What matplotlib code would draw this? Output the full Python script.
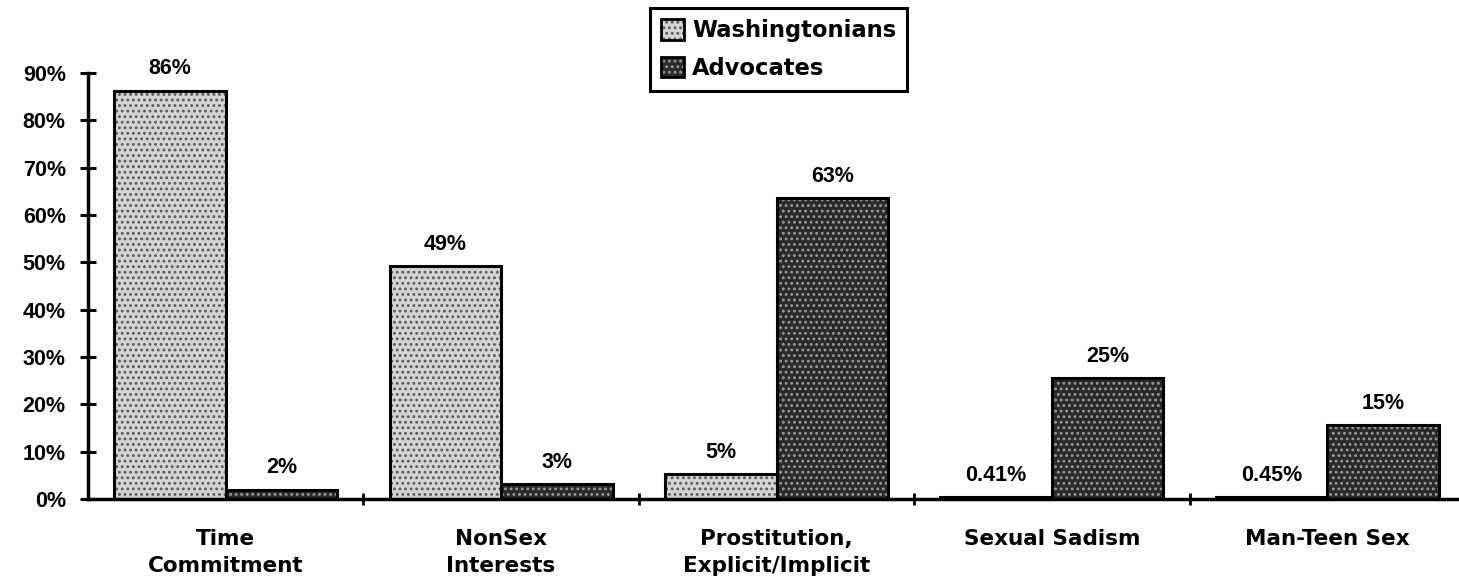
import numpy as np
import matplotlib.pyplot as plt
from matplotlib.patches import Patch
from matplotlib.legend_handler import HandlerTuple

categories = ['Time\nCommitment', 'NonSex\nInterests', 'Prostitution,\nExplicit/Implicit',
              'Sexual Sadism', 'Man-Teen Sex']
washingtonians = [86.3, 49.3, 5.3, 0.41, 0.45]
advocates = [2.0, 3.2, 63.5, 25.6, 15.7]
wash_labels = ['86%', '49%', '5%', '0.41%', '0.45%']
adv_labels = ['2%', '3%', '63%', '25%', '15%']
yticks = [0, 10, 20, 30, 40, 50, 60, 70, 80, 90]

plt.rcParams['font.family'] = ['Liberation Sans', 'DejaVu Sans']
plt.rcParams['font.weight'] = 'bold'
plt.rcParams['hatch.linewidth'] = 1.3

fig = plt.figure(figsize=(14.59, 5.78), dpi=100)
# left spine at x~88px, zero at y~499px, 90% at y~73px
ax = fig.add_axes([88 / 1459, (578 - 499) / 578, (1465 - 88) / 1459, (499 - 73) / 578])

x = np.arange(len(categories))
w = 0.405
light_face, light_hatch = '#d4d4d4', '#5a5a5a'
dark_face, dark_hatch = '#2a2a2a', '#9a9a9a'

ax.bar(x - w / 2, washingtonians, w, color=light_face, edgecolor=light_hatch, hatch='...', linewidth=0)
ax.bar(x + w / 2, advocates, w, color=dark_face, edgecolor=dark_hatch, hatch='...', linewidth=0)
ax.bar(x - w / 2, washingtonians, w, fill=False, edgecolor='black', linewidth=2.2)
ax.bar(x + w / 2, advocates, w, fill=False, edgecolor='black', linewidth=2.2)

for i in range(len(categories)):
    ax.annotate(wash_labels[i], (x[i] - w / 2, washingtonians[i]), xytext=(0, 8),
                textcoords='offset points', ha='center', va='bottom', fontsize=15.5)
    ax.annotate(adv_labels[i], (x[i] + w / 2, advocates[i]), xytext=(0, 8),
                textcoords='offset points', ha='center', va='bottom', fontsize=15.5)

ax.set_xlim(-0.5, 4.5)
ax.set_ylim(0, 90)
ax.set_yticks(yticks)
ax.set_yticklabels([f'{v}%' for v in yticks], fontsize=15.5)
ax.set_xticks(x[:-1] + 0.5)
ax.set_xticklabels([])
ax.tick_params(axis='y', direction='inout', length=12, width=2.2, pad=10)
ax.tick_params(axis='x', direction='inout', length=8, width=2)

for i, c in enumerate(categories):
    ax.text(x[i], -6.3, c, ha='center', va='top', fontsize=15.5,
            family='DejaVu Sans', linespacing=1.45)

ax.spines['top'].set_visible(False)
ax.spines['right'].set_visible(False)
ax.spines['left'].set_linewidth(2.5)
ax.spines['bottom'].set_linewidth(2.5)
ax.spines['bottom'].set_clip_on(False)

h1 = (Patch(facecolor=light_face, edgecolor=light_hatch, hatch='...', linewidth=0),
      Patch(fill=False, edgecolor='black', linewidth=2))
h2 = (Patch(facecolor=dark_face, edgecolor=dark_hatch, hatch='...', linewidth=0),
      Patch(fill=False, edgecolor='black', linewidth=2))
leg = fig.legend([h1, h2], ['Washingtonians', 'Advocates'],
                 handler_map={tuple: HandlerTuple(ndivide=1)},
                 loc='upper left', bbox_to_anchor=(650 / 1459, 1 - 8 / 578),
                 prop={'family': 'DejaVu Sans', 'weight': 'bold', 'size': 16.3},
                 handlelength=1.0, handleheight=1.0, handletextpad=0.35,
                 borderpad=0.5, labelspacing=0.65, fancybox=False, framealpha=1,
                 edgecolor='black', borderaxespad=0)
leg.get_frame().set_linewidth(2.2)

fig.savefig('out.png', dpi=100)
